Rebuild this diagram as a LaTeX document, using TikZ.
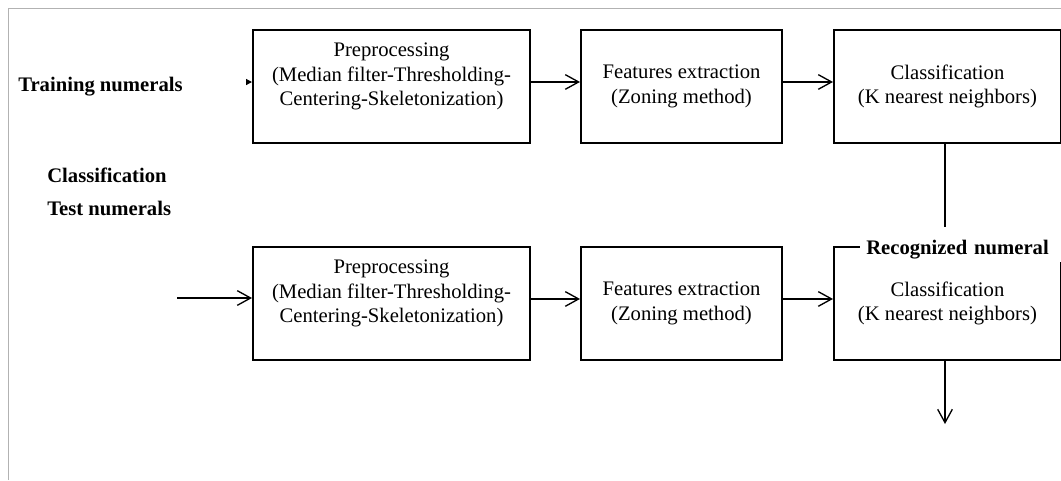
\documentclass[tikz,border=0pt]{standalone}
\usepackage{fontspec}
\setmainfont{Liberation Serif}
\usetikzlibrary{arrows.meta}
\begin{document}
\begin{tikzpicture}[x=0.75pt,y=-0.75pt,
  stagebox/.style={draw,line width=1.5pt,minimum height=84.75pt,align=center,
    inner sep=0pt,font=\fontsize{15.5}{18.4}\selectfont},
  flow/.style={line width=1pt,-{Straight Barb[length=10pt,width=11pt]}},
  tag/.style={font=\fontsize{15.5}{18.4}\selectfont\bfseries,anchor=west,inner sep=0pt}]
  \useasboundingbox (0,0) rectangle (1061,480);
  % Frame
  \draw[gray!60,line width=0.75pt] (8,480) -- (8,8) -- (1061,8);
  % Left labels
  \node[tag] (train) at (18,87) {Training numerals};
  \node[tag] (clsname) at (47,175) {Classification};
  \node[tag] (test) at (47,208) {Test numerals};
  % Training row
  \node[stagebox,minimum width=207.75pt] (pre1) at (391.5,86.5)
    {Preprocessing\\(Median filter-Thresholding-\\Centering-Skeletonization)\\\mbox{}};
  \node[stagebox,minimum width=150.75pt] (feat1) at (681.5,86.5)
    {Features extraction\\(Zoning method)};
  \node[stagebox,minimum width=170.25pt] (cls1) at (947.5,86.5)
    {Classification\\(K nearest neighbors)};
  % Test row
  \node[stagebox,minimum width=207.75pt] (pre2) at (391.5,303.5)
    {Preprocessing\\(Median filter-Thresholding-\\Centering-Skeletonization)\\\mbox{}};
  \node[stagebox,minimum width=150.75pt] (feat2) at (681.5,303.5)
    {Features extraction\\(Zoning method)};
  \node[stagebox,minimum width=170.25pt] (cls2) at (947.5,303.5)
    {Classification\\(K nearest neighbors)};
  \node[tag,fill=white,inner xsep=4.5pt,inner ysep=2pt,text width=144pt,align=left]
    (result) at (860,250) {Recognized numeral};
  % Connectors
  \foreach \a/\b in {pre1/feat1, feat1/cls1, pre2/feat2, feat2/cls2}
    \draw[flow] ([yshift=3.4pt]\a.east) -- ([yshift=3.4pt]\b.west);
  \coordinate (in1) at (246,82);
  \draw[line width=1pt,-{Triangle[length=4.5pt,width=4.5pt]}] (in1) -- (pre1.west |- in1);
  \coordinate (in2) at (177,298);
  \draw[flow] (in2) -- (pre2.west |- in2);
  \coordinate (join) at (945,227);
  \draw[line width=1pt] (cls1.south -| join) -- (join);
  \coordinate (out) at (945,424);
  \draw[flow] (cls2.south -| out) -- (out);
\end{tikzpicture}
\end{document}
